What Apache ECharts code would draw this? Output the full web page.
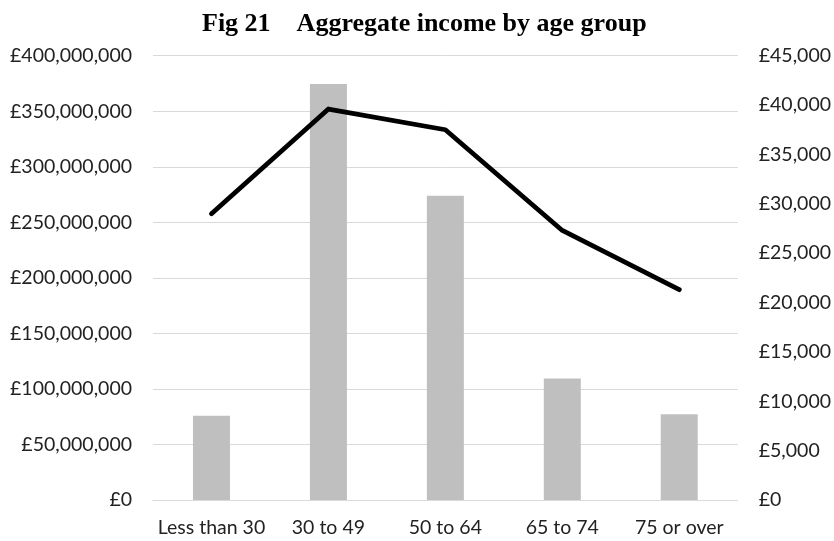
<!DOCTYPE html>
<html>
<head>
<meta charset="utf-8">
<script src="https://cdn.jsdelivr.net/npm/echarts@6/dist/echarts.min.js"></script>
<style>
html,body{margin:0;padding:0;background:#fff;}
#chart{width:834px;height:541px;}
</style>
</head>
<body>
<div id="chart"></div>
<script>
const titleText = 'Fig 21    Aggregate income by age group';
const categories = ['Less than 30', '30 to 49', '50 to 64', '65 to 74', '75 or over'];
const aggregateIncome = [75800000, 374600000, 273900000, 109400000, 77300000];
const averageIncome = [29000, 39600, 37500, 27300, 21300];
const leftTicks = { min: 0, max: 400000000, interval: 50000000 };
const rightTicks = { min: 0, max: 45000, interval: 5000 };

function gbp(v) {
  return '£' + Math.round(v).toString().replace(/\B(?=(\d{3})+(?!\d))/g, ',');
}

const labelFont = { fontFamily: 'Lato', fontSize: 19.5, color: '#222' };

const chart = echarts.init(document.getElementById('chart'), null, { renderer: 'canvas' });
chart.setOption({
  animation: false,
  backgroundColor: '#ffffff',
  title: {
    text: titleText,
    left: 197,
    top: 6,
    textStyle: { fontFamily: 'Liberation Serif', fontWeight: 'bold', fontSize: 26, color: '#000' }
  },
  grid: { left: 153, right: 96, top: 55.7, bottom: 41, containLabel: false },
  xAxis: {
    type: 'category',
    data: categories,
    axisLine: { show: true, lineStyle: { color: '#d9d9d9', width: 1 } },
    axisTick: { show: false },
    axisLabel: Object.assign({ margin: 18, interval: 0 }, labelFont),
    splitLine: { show: false }
  },
  yAxis: [
    {
      type: 'value',
      min: leftTicks.min, max: leftTicks.max, interval: leftTicks.interval,
      axisLine: { show: false },
      axisTick: { show: false },
      axisLabel: Object.assign({ margin: 21, formatter: gbp }, labelFont),
      splitLine: { show: true, lineStyle: { color: '#d9d9d9', width: 1 } }
    },
    {
      type: 'value',
      position: 'right',
      min: rightTicks.min, max: rightTicks.max, interval: rightTicks.interval,
      axisLine: { show: false },
      axisTick: { show: false },
      axisLabel: Object.assign({ margin: 21, formatter: gbp }, labelFont),
      splitLine: { show: false }
    }
  ],
  series: [
    {
      type: 'bar',
      yAxisIndex: 0,
      data: aggregateIncome,
      barWidth: 37,
      itemStyle: { color: '#bfbfbf' }
    },
    {
      type: 'line',
      yAxisIndex: 1,
      data: averageIncome,
      symbol: 'none',
      lineStyle: { color: '#000', width: 4.8, cap: 'round', join: 'round' },
      z: 5
    }
  ]
});
</script>
</body>
</html>
